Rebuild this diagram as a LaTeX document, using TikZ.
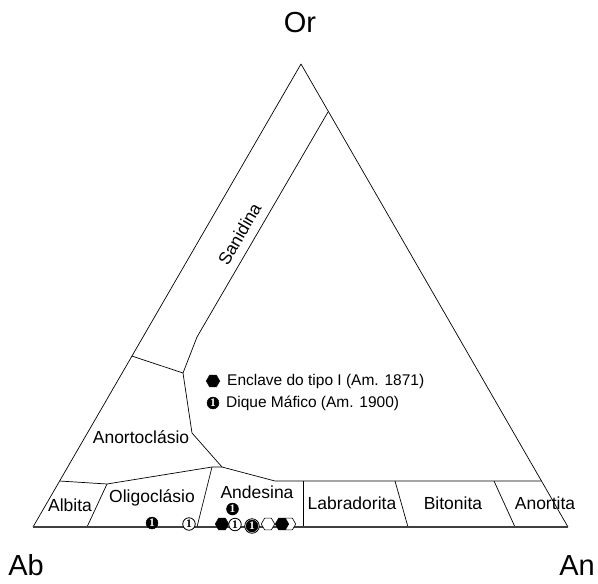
\documentclass[tikz,border=0pt]{standalone}
\usepackage{fontspec}
\setmainfont{Liberation Sans}
\newfontfamily\serifone{Liberation Serif}
\usetikzlibrary{shapes.geometric}
\begin{document}
\begin{tikzpicture}[x=1pt,y=-1pt,
  bnd/.style={line width=0.7pt, line join=round},
  baseline/.style={line width=1.1pt, draw=black!75},
  lab/.style={font=\fontsize{17.5}{17.5}\selectfont, inner sep=0pt},
  corner/.style={font=\fontsize{29}{29}\selectfont, inner sep=0pt},
  leg/.style={font=\fontsize{15.5}{15.5}\selectfont, inner sep=0pt, anchor=west},
  hexb/.style={regular polygon, regular polygon sides=6, fill=black, draw=black, line width=0.5pt, minimum size=13.5pt, inner sep=0pt},
  hexw/.style={regular polygon, regular polygon sides=6, fill=white, draw=black, line width=0.6pt, minimum size=13.5pt, inner sep=0pt},
  dotb/.style={circle, fill=black, draw=black, minimum size=12pt, inner sep=0pt, text=white, font=\serifone\bfseries\fontsize{11.5}{11.5}\selectfont},
  dotw/.style={circle, draw=black, fill=white, line width=0.8pt, minimum size=12.5pt, inner sep=0pt, font=\serifone\bfseries\fontsize{11.5}{11.5}\selectfont},
]
\useasboundingbox (0,0) rectangle (598,584);
% corners
\coordinate (A) at (33,527);
\coordinate (B) at (568,527);
\coordinate (C) at (301,64);
% outer triangle
\draw[bnd] (A) -- (C) -- (B);
% sanidina / anortoclasio boundaries
\coordinate (s1) at (328,112);
\coordinate (s2) at (197,337);
\coordinate (s3) at (183,373);
\coordinate (s4) at (131.7,356);
\coordinate (s5) at (192,433);
\coordinate (s6) at (222,467);
\coordinate (s7) at (212,467);
\coordinate (s8) at (275,481);
\coordinate (s9) at (541.5,481);
\coordinate (a1) at (59.5,481);
\coordinate (a2) at (107,484);
\coordinate (a3) at (87,527);
\coordinate (o1) at (197,527);
\coordinate (l1) at (303,481);
\coordinate (l2) at (303,527);
\coordinate (b1) at (395,481);
\coordinate (b2) at (408,527);
\coordinate (n1) at (494,481);
\coordinate (n2) at (515,527);
\draw[bnd] (s1) -- (s2) -- (s3) -- (s5) -- (s6) -- (s8) -- (s9);
\draw[bnd] (s4) -- (s3);
\draw[bnd] (a1) -- (a2) -- (s7) -- (s6);
\draw[bnd] (a2) -- (a3);
\draw[bnd] (s7) -- (o1);
\draw[bnd] (l1) -- (l2);
\draw[bnd] (b1) -- (b2);
\draw[bnd] (n1) -- (n2);
\draw[baseline] (A) -- (B);
% corner labels
\node[corner] (Or) at (300,22.5) {Or};
\node[corner] (Ab) at (26,565) {Ab};
\node[corner] (An) at (577,566) {An};
% field labels
\node[lab, rotate=60] (san) at (239.5,234) {Sanidina};
\node[lab] (ano) at (141,437) {Anortocl\'asio};
\node[lab] (alb) at (70,505) {Albita};
\node[lab] (oli) at (152,498) {Oligocl\'asio};
\node[lab] (and) at (257,492) {Andesina};
\node[lab] (lbr) at (352,503) {Labradorita};
\node[lab] (bit) at (453,503) {Bitonita};
\node[lab] (anr) at (545,503) {Anortita};
% legend
\node[hexb] (lh) at (213,381) {};
\node[leg] (lt1) at (227,381) {Enclave do tipo I (Am. 1871)};
\node[dotb] (ld) at (213,403) {1};
\node[leg] (lt2) at (226,403) {Dique M\'afico (Am. 1900)};
% data points
\node[dotb] (p1) at (152,523) {1};
\node[dotw] (p2) at (189,524) {1};
\node[hexw] (p3) at (289,524) {};
\node[hexw] (p4) at (268,524) {};
\node[hexb] (p5) at (282,524) {};
\node[hexb] (p6) at (222,524) {};
\node[dotw, minimum size=14.5pt] (p7r) at (252,526) {};
\node[dotb] (p7) at (252,526) {1};
\node[dotw] (p8) at (235,524.5) {1};
\node[dotb] (p9) at (232.5,509) {1};
\end{tikzpicture}
\end{document}
